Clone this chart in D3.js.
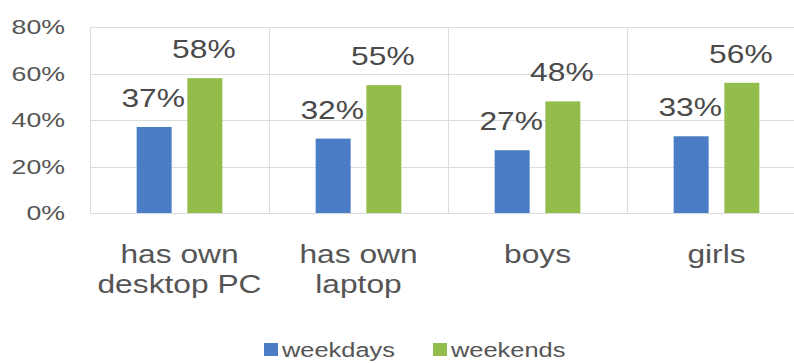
<!DOCTYPE html>
<html>
<head>
<meta charset="utf-8">
<script src="https://cdn.jsdelivr.net/npm/d3@7"></script>
<style>
  html, body { margin: 0; padding: 0; background: #fff; }
  svg { display: block; font-family: "Liberation Sans", Arial, sans-serif; }
</style>
</head>
<body>
<svg id="chart" width="794" height="363"></svg>
<script>
// Share of time spent on screens, by group
const categories = [["has own", "desktop PC"], ["has own", "laptop"], ["boys"], ["girls"]];
const seriesNames = ["weekdays", "weekends"];
const weekdays = [0.37, 0.32, 0.27, 0.33];
const weekends = [0.58, 0.55, 0.48, 0.56];
const yTicks = [0, 0.2, 0.4, 0.6, 0.8];
const colors = ["#4a7dc5", "#92bd4a"];

const svg = d3.select("#chart");
const textColor = "#555555";
const sx = 1.27; // horizontal stretch of the lettering

const plot = { left: 90, right: 806, top: 27, bottom: 213 };

const x0 = d3.scaleBand()
  .domain(d3.range(categories.length))
  .range([plot.left, plot.right])
  .padding(0);

const x1 = d3.scaleBand()
  .domain(seriesNames)
  .range([0, x0.bandwidth()])
  .paddingInner(0.31)
  .paddingOuter(0.92);

const y = d3.scaleLinear().domain([0, 0.8]).range([plot.bottom, plot.top]);

// stretched text helper
function stext(g, x, yPos, str, size, anchor, color) {
  return g.append("text")
    .attr("transform", `translate(${x},${yPos}) scale(${sx},1)`)
    .attr("text-anchor", anchor)
    .attr("font-size", size)
    .attr("fill", color)
    .text(str);
}

// gridlines
const grid = svg.append("g").attr("stroke", "#dcdcdc").attr("stroke-width", 1);
yTicks.forEach(t => {
  grid.append("line")
    .attr("x1", plot.left).attr("x2", plot.right)
    .attr("y1", Math.round(y(t)) + 0.5).attr("y2", Math.round(y(t)) + 0.5);
});
d3.range(categories.length + 1).forEach(i => {
  const xv = i < categories.length ? x0(i) : plot.right;
  grid.append("line")
    .attr("x1", Math.round(xv) + 0.5).attr("x2", Math.round(xv) + 0.5)
    .attr("y1", plot.top).attr("y2", plot.bottom);
});

// y tick labels
const fmt = d3.format(".0%");
const ax = svg.append("g");
yTicks.forEach(t => {
  stext(ax, 65, y(t) + 7, fmt(t), 21, "end", textColor);
});

// bars and value labels
const seriesData = [weekdays, weekends];
const bars = svg.append("g");
const labels = svg.append("g");
seriesNames.forEach((name, si) => {
  seriesData[si].forEach((v, ci) => {
    const bx = x0(ci) + x1(name);
    bars.append("rect")
      .attr("x", bx)
      .attr("y", y(v))
      .attr("width", x1.bandwidth())
      .attr("height", y(0) - y(v))
      .attr("fill", colors[si]);
    stext(labels, bx + x1.bandwidth() / 2 - 1, y(v) - 20, fmt(v), 25, "middle", "#4a4a4a");
  });
});

// category labels
const cat = svg.append("g");
categories.forEach((lines, ci) => {
  const cx = x0(ci) + x0.bandwidth() / 2;
  lines.forEach((ln, li) => {
    stext(cat, cx, 263 + li * 30, ln, 25, "middle", textColor);
  });
});

// legend
const legend = svg.append("g");
const legendItems = [
  { name: seriesNames[0], color: colors[0], x: 264 },
  { name: seriesNames[1], color: colors[1], x: 433 }
];
legendItems.forEach(it => {
  legend.append("rect")
    .attr("x", it.x).attr("y", 343)
    .attr("width", 14).attr("height", 13)
    .attr("fill", it.color);
  stext(legend, it.x + 18, 357, it.name, 20, "start", textColor);
});
</script>
</body>
</html>
